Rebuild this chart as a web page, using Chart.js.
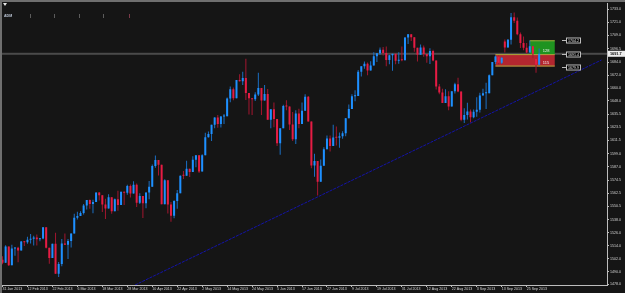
<!DOCTYPE html>
<html>
<head>
<meta charset="utf-8">
<script src="https://cdn.jsdelivr.net/npm/chart.js@4.4.0/dist/chart.umd.min.js"></script>
<style>
    html, body { margin: 0; padding: 0; background: #151515; }
    #wrap { width: 625px; height: 293px; }
</style>
</head>
<body>
<div id="wrap"><canvas id="chart" width="625" height="293"></canvas></div>
<script>
// daily bars, 31 Jan 2013 .. 1 Oct 2013 (index = bar number)
const opens = [
    1501.0,1498.1,1513.2,1495.7,1511.3,1512.1,1509.4,1517.9,1517.0,1519.4,
    1520.3,1521.4,1519.8,1520.5,1530.9,1511.9,1502.4,1515.6,1487.9,1496.9,
    1516.0,1514.7,1518.2,1525.2,1539.8,1541.5,1544.3,1551.2,1556.2,1552.5,
    1554.5,1563.2,1560.7,1552.1,1548.3,1558.7,1545.8,1556.9,1551.7,1563.8,
    1562.9,1569.2,1562.2,1570.3,1553.7,1560.0,1553.3,1563.1,1568.6,1587.7,
    1593.4,1588.9,1552.4,1574.6,1552.0,1541.6,1555.3,1562.5,1578.8,1578.6,
    1585.2,1582.2,1593.6,1597.6,1582.7,1597.6,1614.4,1617.5,1626.0,1632.7,
    1626.7,1633.7,1633.8,1650.3,1658.8,1650.5,1667.5,1666.3,1669.2,1655.4,
    1650.5,1649.6,1654.0,1660.1,1648.4,1654.4,1630.7,1640.4,1631.4,1608.9,
    1622.6,1643.4,1642.8,1626.1,1612.5,1636.4,1626.7,1639.0,1651.8,1628.9,
    1588.2,1592.4,1573.1,1588.0,1603.3,1613.2,1606.3,1614.1,1614.0,1615.4,
    1618.0,1631.9,1640.5,1652.3,1652.6,1675.0,1680.2,1682.5,1676.3,1680.9,
    1689.4,1692.1,1695.5,1692.4,1685.9,1690.3,1691.7,1685.3,1686.0,1685.7,
    1706.9,1709.7,1707.1,1697.4,1690.9,1697.5,1691.4,1689.5,1694.2,1685.4,
    1661.3,1655.8,1646.1,1652.4,1642.8,1657.0,1663.5,1656.8,1630.5,1635.0,
    1638.2,1633.0,1638.0,1639.8,1653.1,1655.1,1655.2,1671.7,1684.0,1689.1,
    1683.4,1703.0,1697.6,1704.8,1725.5,1722.3,1709.9,1701.8,1697.4,1692.8,
    1698.7,1687.0,1681.6
];
const highs = [
    1504.2,1514.4,1513.2,1514.8,1512.5,1512.9,1518.3,1518.3,1522.3,1524.7,
    1523.1,1524.2,1521.0,1530.9,1530.9,1511.9,1515.6,1525.8,1498.9,1520.1,
    1525.3,1520.0,1525.3,1543.5,1545.3,1545.8,1552.5,1556.3,1556.8,1556.4,
    1563.3,1563.6,1560.7,1557.3,1561.6,1558.7,1557.7,1564.9,1563.9,1564.1,
    1570.3,1570.6,1573.7,1571.5,1562.6,1560.0,1563.1,1573.9,1589.1,1597.4,
    1593.4,1588.9,1575.4,1574.6,1554.4,1555.9,1565.5,1578.9,1583.0,1592.6,
    1585.2,1596.7,1597.6,1597.6,1598.6,1618.5,1619.8,1626.0,1632.8,1635.0,
    1634.0,1636.0,1651.1,1661.5,1660.5,1667.5,1672.8,1675.0,1687.2,1655.4,
    1650.5,1656.0,1674.2,1660.1,1662.7,1659.0,1640.4,1646.5,1631.4,1622.6,
    1644.4,1648.7,1642.8,1637.7,1639.3,1640.8,1646.5,1654.2,1652.5,1628.9,
    1599.0,1592.4,1593.8,1605.1,1615.9,1615.9,1626.0,1624.3,1618.7,1620.0,
    1632.1,1644.7,1654.2,1657.9,1676.6,1680.2,1684.5,1683.7,1684.8,1693.1,
    1692.1,1697.6,1698.0,1698.4,1690.9,1691.8,1691.7,1693.2,1698.4,1707.0,
    1709.7,1709.7,1707.1,1697.4,1700.2,1699.4,1691.4,1696.8,1695.5,1685.4,
    1663.6,1659.2,1658.9,1656.9,1656.9,1664.8,1669.5,1656.8,1641.2,1646.4,
    1640.1,1640.0,1651.4,1655.7,1659.2,1664.8,1672.4,1684.1,1690.0,1690.0,
    1688.6,1705.0,1705.5,1729.4,1729.9,1725.2,1711.4,1707.6,1701.7,1703.9,
    1698.7,1688.0,1696.6
];
const lows = [
    1496.8,1498.1,1495.0,1495.7,1504.7,1498.5,1509.4,1513.6,1515.6,1515.9,
    1514.0,1514.1,1518.0,1519.8,1511.4,1497.3,1502.4,1487.9,1485.0,1494.9,
    1514.5,1501.5,1512.3,1525.2,1538.1,1541.5,1542.9,1547.4,1548.2,1544.0,
    1554.5,1555.7,1545.1,1538.6,1548.3,1543.5,1545.8,1546.2,1551.7,1551.5,
    1561.1,1558.5,1562.2,1549.8,1552.5,1539.5,1548.6,1556.9,1568.6,1586.2,
    1579.0,1552.3,1552.4,1543.7,1536.0,1539.4,1548.2,1562.5,1575.8,1578.6,
    1577.6,1582.2,1586.5,1581.3,1582.7,1597.6,1614.2,1611.0,1622.7,1623.1,
    1623.5,1626.7,1633.8,1646.7,1648.6,1650.5,1666.1,1662.7,1648.9,1635.5,
    1635.0,1648.0,1652.6,1635.0,1648.4,1630.7,1622.7,1623.6,1606.3,1598.2,
    1622.6,1639.3,1621.0,1610.9,1608.1,1622.7,1626.7,1639.0,1628.9,1585.6,
    1577.7,1560.3,1573.1,1588.0,1603.3,1601.1,1606.3,1606.8,1604.6,1613.0,
    1615.3,1631.9,1640.5,1647.7,1652.6,1670.6,1677.9,1671.8,1676.3,1680.9,
    1684.1,1690.7,1690.0,1680.2,1681.9,1676.0,1681.9,1682.4,1684.9,1685.7,
    1700.7,1703.5,1693.7,1684.5,1690.9,1689.0,1683.4,1682.2,1684.8,1658.6,
    1654.2,1646.1,1646.1,1639.4,1642.8,1654.9,1656.0,1629.1,1627.5,1630.9,
    1628.1,1632.0,1633.4,1637.4,1653.1,1640.6,1655.2,1671.7,1682.0,1682.0,
    1682.2,1693.0,1697.6,1700.4,1720.2,1708.9,1697.1,1694.9,1691.9,1692.8,
    1687.5,1674.2,1681.6
];
const closes = [
    1498.1,1513.2,1495.7,1511.3,1512.1,1509.4,1517.9,1517.0,1519.4,1520.3,
    1521.4,1519.8,1520.5,1530.9,1511.9,1502.4,1515.6,1487.9,1496.9,1516.0,
    1514.7,1518.2,1525.2,1539.8,1541.5,1544.3,1551.2,1556.2,1552.5,1554.5,
    1563.2,1560.7,1552.1,1548.3,1558.7,1545.8,1556.9,1551.7,1563.8,1562.9,
    1569.2,1562.2,1570.3,1553.7,1560.0,1553.3,1563.1,1568.6,1587.7,1593.4,
    1588.9,1552.4,1574.6,1552.0,1541.6,1555.3,1562.5,1578.8,1578.6,1585.2,
    1582.2,1593.6,1597.6,1582.7,1597.6,1614.4,1617.5,1626.0,1632.7,1626.7,
    1633.7,1633.8,1650.3,1658.8,1650.5,1667.5,1666.3,1669.2,1655.4,1650.5,
    1649.6,1654.0,1660.1,1648.4,1654.4,1630.7,1640.4,1631.4,1608.9,1622.6,
    1643.4,1642.8,1626.1,1612.5,1636.4,1626.7,1639.0,1651.8,1628.9,1588.2,
    1592.4,1573.1,1588.0,1603.3,1613.2,1606.3,1614.1,1614.0,1615.4,1618.0,
    1631.9,1640.5,1652.3,1652.6,1675.0,1680.2,1682.5,1676.3,1680.9,1689.4,
    1692.1,1695.5,1692.4,1685.9,1690.3,1691.7,1685.3,1686.0,1685.7,1706.9,
    1709.7,1707.1,1697.4,1690.9,1697.5,1691.4,1689.5,1694.2,1685.4,1661.3,
    1655.8,1646.1,1652.4,1642.8,1657.0,1663.5,1656.8,1630.5,1635.0,1638.2,
    1633.0,1638.0,1639.8,1653.1,1655.1,1655.2,1671.7,1684.0,1689.1,1683.4,
    1688.0,1697.6,1704.8,1725.5,1722.3,1709.9,1701.8,1697.4,1692.8,1698.7,
    1691.8,1681.6,1691.7
];

const xTickIdx = [0, 8, 16, 24, 32, 40, 48, 56, 64, 72, 80, 88, 96, 104, 112, 120, 128, 136, 144, 152, 160, 168];
const xTickLabels = ['31 Jan 2013', '12 Feb 2013', '22 Feb 2013', '6 Mar 2013', '18 Mar 2013', '28 Mar 2013',
    '10 Apr 2013', '22 Apr 2013', '2 May 2013', '14 May 2013', '24 May 2013', '5 Jun 2013', '17 Jun 2013',
    '27 Jun 2013', '9 Jul 2013', '19 Jul 2013', '31 Jul 2013', '12 Aug 2013', '22 Aug 2013', '3 Sep 2013',
    '13 Sep 2013', '25 Sep 2013'];
const yTickValues = [1478.0, 1490.0, 1502.0, 1514.0, 1526.0, 1538.0, 1550.5, 1562.5, 1574.5, 1587.0, 1599.0,
    1611.5, 1623.5, 1635.5, 1648.0, 1660.0, 1672.0, 1684.0, 1696.5, 1709.0, 1721.0, 1733.0];

// trend line anchors (bar index, price)
const trendX = [42.5, 192];
const trendY = [1477.5, 1686.0];

const lastPrice = 1691.7;
// long position tool
const posBars = [158, 169, 177];          // start of stop box, start of target box, end
const posLevels = [1704.2, 1691.4, 1679.9]; // target, entry, stop
const posTexts = ['128', '115'];

const BULL = '#1e90ff', BEAR = '#e61c44';
const FONT = "'Liberation Sans', Arial, sans-serif";

const isBull = closes.map((c, i) => c >= opens[i]);

const overlay = {
    id: 'overlay',
    beforeDraw(chart) {
        const c = chart.ctx;
        c.save();
        c.fillStyle = '#151515';
        c.fillRect(0, 0, chart.width, chart.height);
        c.fillStyle = '#6f6f6f';
        c.fillRect(0, 0, chart.width, 2);
        c.fillRect(0, 0, 2, chart.height);
        c.restore();
    },
    beforeDatasetsDraw(chart) {
        const c = chart.ctx, a = chart.chartArea, x = chart.scales.x, y = chart.scales.y;
        c.save();
        c.beginPath();
        c.rect(a.left, a.top, a.right - a.left, a.bottom - a.top);
        c.clip();

        // current price line
        const py = y.getPixelForValue(lastPrice);
        c.fillStyle = '#4a4a4a';
        c.fillRect(a.left, py - 1, a.right - a.left, 2);

        // position boxes
        const x0 = x.getPixelForValue(posBars[0]);
        const x1 = x.getPixelForValue(posBars[1]);
        const x2 = x.getPixelForValue(posBars[2]);
        const yT = y.getPixelForValue(posLevels[0]);
        const yE = y.getPixelForValue(posLevels[1]);
        const yS = y.getPixelForValue(posLevels[2]);
        c.fillStyle = '#1f9320';
        c.fillRect(x1, yT, x2 - x1, yE - yT);
        c.fillStyle = '#b3262f';
        c.fillRect(x0, yE, x2 - x0, yS - yE);
        c.strokeStyle = '#a6a83c';
        c.lineWidth = 1;
        c.beginPath();
        c.moveTo(x1, yT + 0.5); c.lineTo(x2, yT + 0.5);
        c.moveTo(x0, yE + 0.5); c.lineTo(x2, yE + 0.5);
        c.moveTo(x0, yS - 0.5); c.lineTo(x2, yS - 0.5);
        c.stroke();
        c.restore();
    },
    afterDraw(chart) {
        const c = chart.ctx, a = chart.chartArea, x = chart.scales.x, y = chart.scales.y;
        c.save();
        c.textBaseline = 'middle';

        // box texts
        const x2 = x.getPixelForValue(posBars[2]);
        const yE = y.getPixelForValue(posLevels[1]);
        c.font = '4px ' + FONT;
        c.fillStyle = '#f0f0f0';
        c.textAlign = 'left';
        c.fillText(posTexts[0], x2 - 12, yE - 3.5);
        c.fillText(posTexts[1], x2 - 12, yE + 8.5);

        // level labels
        c.font = '3.6px ' + FONT;
        posLevels.forEach(function (v) {
            const ly = Math.round(y.getPixelForValue(v)) + 0.5;
            c.strokeStyle = '#bdbdbd';
            c.lineWidth = 1;
            c.beginPath();
            c.moveTo(562, ly); c.lineTo(566, ly);
            c.stroke();
            c.fillStyle = '#000';
            c.fillRect(566, ly - 2.5, 15, 5);
            c.strokeRect(566.5, ly - 2.5, 14, 5);
            c.fillStyle = '#e6e6e6';
            c.fillText(v.toFixed(1), 568, ly);
        });

        // current price tag
        const py = y.getPixelForValue(lastPrice);
        c.fillStyle = '#ececec';
        c.fillRect(a.right + 1, py - 3, 17, 6);
        c.fillStyle = '#000';
        c.font = 'bold 3.8px ' + FONT;
        c.fillText(lastPrice.toFixed(1), a.right + 3, py);

        // window header
        c.fillStyle = '#e8e8e8';
        c.beginPath();
        c.moveTo(3, 3); c.lineTo(7, 3); c.lineTo(5, 6); c.closePath();
        c.fill();
        c.fillStyle = '#bcc6d6';
        c.font = 'bold 3.6px ' + FONT;
        c.fillText('ADM', 4, 15.5);
        // small header marks
        [30, 54, 79, 103].forEach(function (mx) {
            c.fillStyle = '#5c5c5c';
            c.fillRect(mx, 14, 1, 4);
        });
        c.fillStyle = '#7a3a48';
        c.fillRect(129, 14, 1, 4);
        c.restore();
    }
};

const ctx = document.getElementById('chart').getContext('2d');
new Chart(ctx, {
    type: 'bar',
    data: {
        datasets: [
            {
                label: 'trend',
                type: 'line',
                data: trendX.map((v, i) => ({ x: v, y: trendY[i] })),
                borderColor: '#1414a8',
                borderWidth: 1,
                borderDash: [3, 1],
                pointRadius: 0,
                fill: false,
                order: 0
            },
            {
                label: 'bodies',
                data: opens.map((o, i) => ({ x: i, y: [o, closes[i]] })),
                backgroundColor: isBull.map(b => b ? BULL : BEAR),
                borderWidth: 0,
                grouped: false,
                maxBarThickness: 2,
                minBarLength: 1,
                order: 1
            },
            {
                label: 'wicks',
                data: lows.map((l, i) => ({ x: i, y: [l, highs[i]] })),
                backgroundColor: isBull.map(b => b ? '#1b6fc4' : '#a3162f'),
                borderWidth: 0,
                grouped: false,
                maxBarThickness: 1,
                order: 2
            }
        ]
    },
    options: {
        responsive: false,
        animation: false,
        layout: { padding: { top: 3, left: 2, right: 0, bottom: 0 } },
        plugins: {
            legend: { display: false },
            tooltip: { enabled: false }
        },
        scales: {
            x: {
                type: 'linear',
                offset: false,
                min: -0.16,
                max: 193.75,
                afterBuildTicks: function (s) { s.ticks = xTickIdx.map(v => ({ value: v })); },
                afterFit: function (s) { s.height = 8; },
                ticks: {
                    autoSkip: false,
                    maxRotation: 0,
                    align: 'start',
                    padding: 0,
                    color: '#d4d4d4',
                    font: { family: FONT, size: 3.6 },
                    callback: function (v) { return xTickLabels[xTickIdx.indexOf(v)]; }
                },
                grid: { offset: false, drawOnChartArea: false, tickLength: 2, color: '#bdbdbd' },
                border: { color: '#bdbdbd', width: 1 }
            },
            y: {
                position: 'right',
                min: 1477.5,
                max: 1738.6,
                afterBuildTicks: function (s) { s.ticks = yTickValues.map(v => ({ value: v })); },
                afterFit: function (s) { s.width = 18; },
                ticks: {
                    padding: 1,
                    color: '#d4d4d4',
                    font: { family: FONT, size: 3.6 },
                    callback: function (v) { return v.toFixed(1); }
                },
                grid: { drawOnChartArea: false, tickLength: 2, color: '#bdbdbd' },
                border: { color: '#bdbdbd', width: 1 }
            }
        }
    },
    plugins: [overlay]
});
</script>
</body>
</html>
